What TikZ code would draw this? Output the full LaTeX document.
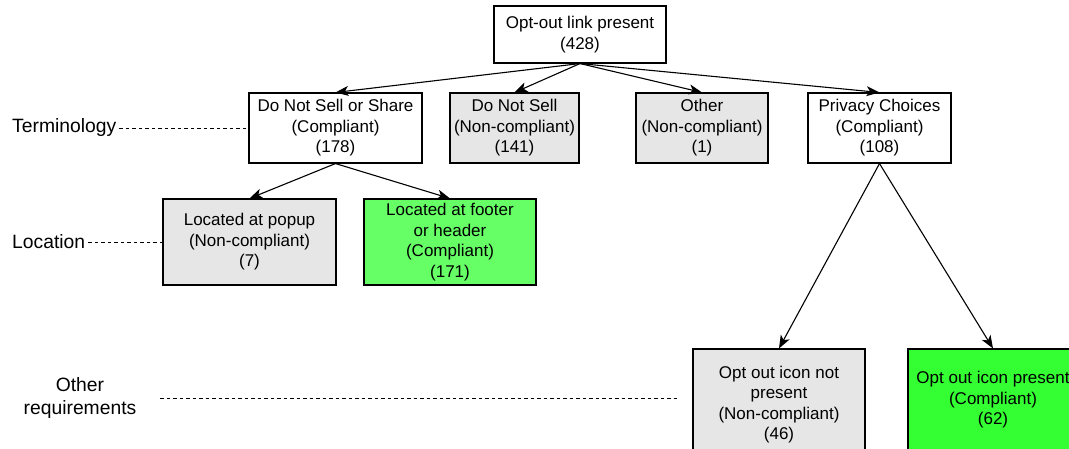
\documentclass[tikz,border=0pt]{standalone}
\usepackage{fontspec}
\setmainfont{Liberation Sans}
\usetikzlibrary{arrows.meta}

\definecolor{ncgrey}{HTML}{E6E6E6}
\definecolor{okgreen}{HTML}{66FF66}
\definecolor{icongreen}{HTML}{33FF33}

\begin{document}
\begin{tikzpicture}[x=1pt, y=-1pt,
  every node/.style = {font=\fontsize{17}{20.5}\selectfont},
  box/.style = {shape=rectangle, draw, line width=1.1pt, align=center,
    inner sep=0pt, fill=white},
  nc/.style = {box, fill=ncgrey},
  ok/.style = {box, fill=okgreen},
  tier/.style = {inner sep=3pt, align=center,
    font=\fontsize{19.3}{23.5}\selectfont},
  link/.style = {-{Stealth[length=13pt, width=10pt, inset=3.5pt]}, line width=1.1pt},
  guide/.style = {dash pattern=on 3.5pt off 3pt, line width=0.9pt}]
  \useasboundingbox (0,0) rectangle (1069,448);

  % top of the tree
  \node[box, minimum width=172, minimum height=57] (root) at (580,34.5)
    {Opt-out link present\\(428)};

  % terminology
  \node[box, minimum width=173, minimum height=70] (dnsos) at (335.5,128)
    {Do Not Sell or Share\\(Compliant)\\(178)};
  \node[nc, minimum width=129, minimum height=70] (dns) at (514.5,128)
    {Do Not Sell\\(Non-compliant)\\(141)};
  \node[nc, minimum width=132, minimum height=70] (other) at (702,128)
    {Other\\(Non-compliant)\\(1)};
  \node[box, minimum width=143, minimum height=70] (privacy) at (879.5,128)
    {Privacy Choices\\(Compliant)\\(108)};

  % location
  \node[nc, minimum width=173, minimum height=86] (popup) at (249.5,242)
    {Located at popup\\(Non-compliant)\\(7)};
  \node[ok, minimum width=172, minimum height=86] (footer) at (450,242)
    {Located at footer\\or header\\(Compliant)\\(171)};

  % other requirements
  \node[nc, minimum width=172, minimum height=111] (noicon) at (779,404.5)
    {Opt out icon not\\present\\(Non-compliant)\\(46)};
  \node[box, fill=icongreen, minimum width=170, minimum height=102] (icon) at (993,400)
    {Opt out icon present\\(Compliant)\\(62)};

  \foreach \kid in {dnsos, dns, other, privacy}
    \draw[link] (root.south) -- (\kid.north);
  \draw[link] (dnsos.south) -- (popup.north);
  \draw[link] (dnsos.south) -- (footer.north);
  \draw[link] (privacy.south) -- (noicon.north);
  \draw[link] (privacy.south) -- (icon.north);

  % level labels
  \node[tier, anchor=west] (termlbl) at (9,128) {Terminology};
  \node[tier, anchor=west] (loclbl) at (9,242) {Location};
  \node[tier] (reqlbl) at (80,398) {Other\\requirements};
  \coordinate (reqend) at (680,398);

  \draw[guide] (termlbl.east) -- (dnsos.west);
  \draw[guide] (loclbl.east) -- (popup.west);
  \draw[guide] (reqlbl.east -| 160,0) -- (reqend);
\end{tikzpicture}
\end{document}
